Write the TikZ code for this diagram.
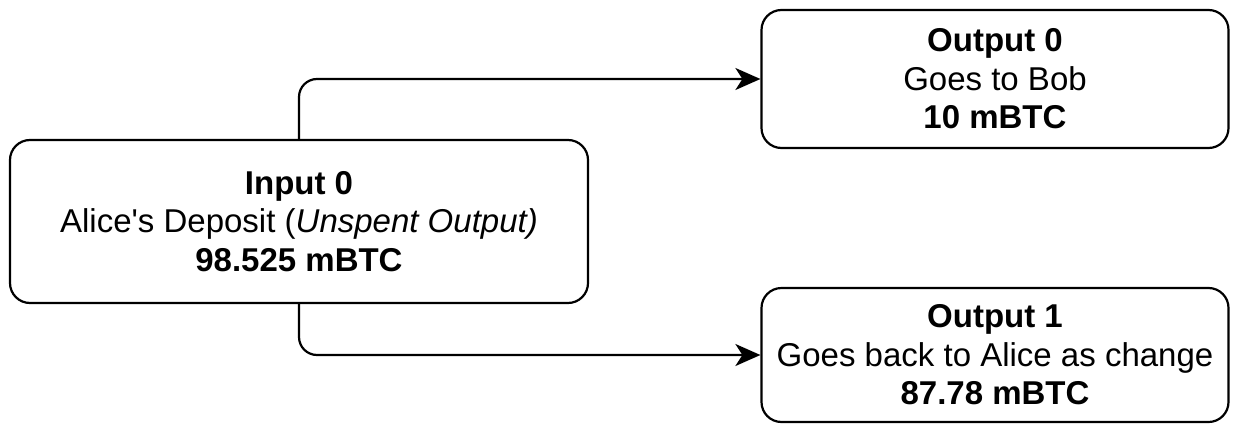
\documentclass[tikz,border=0pt]{standalone}
\usepackage{fontspec}
\setmainfont{Liberation Sans}
\usetikzlibrary{arrows.meta}
\begin{document}
\begin{tikzpicture}[x=1pt,y=-1pt,
  box/.style={draw, line width=2.2pt, rounded corners=20pt, rectangle, inner sep=0pt,
    align=center, font=\fontsize{33}{38.5}\selectfont},
  link/.style={draw, line width=2.2pt, rounded corners=18pt,
    -{Stealth[length=25pt,width=22pt,inset=7pt]}}]
\useasboundingbox (0,0) rectangle (1236,423);
\node[box, minimum width=578pt, minimum height=163pt] (in) at (299,221.5)
  {\textbf{Input 0}\\Alice\textquotesingle s Deposit (\textit{Unspent Output)}\\\textbf{98.525 mBTC}};
\node[box, minimum width=467pt, minimum height=138pt] (out0) at (995,79)
  {\textbf{Output 0}\\Goes to Bob\\\textbf{10 mBTC}};
\node[box, minimum width=467pt, minimum height=134pt] (out1) at (995,355)
  {\textbf{Output 1}\\Goes back to Alice as change\\\textbf{87.78 mBTC}};
\draw[link] (in.north) |- (out0.west);
\draw[link] (in.south) |- (out1.west);
\end{tikzpicture}
\end{document}
